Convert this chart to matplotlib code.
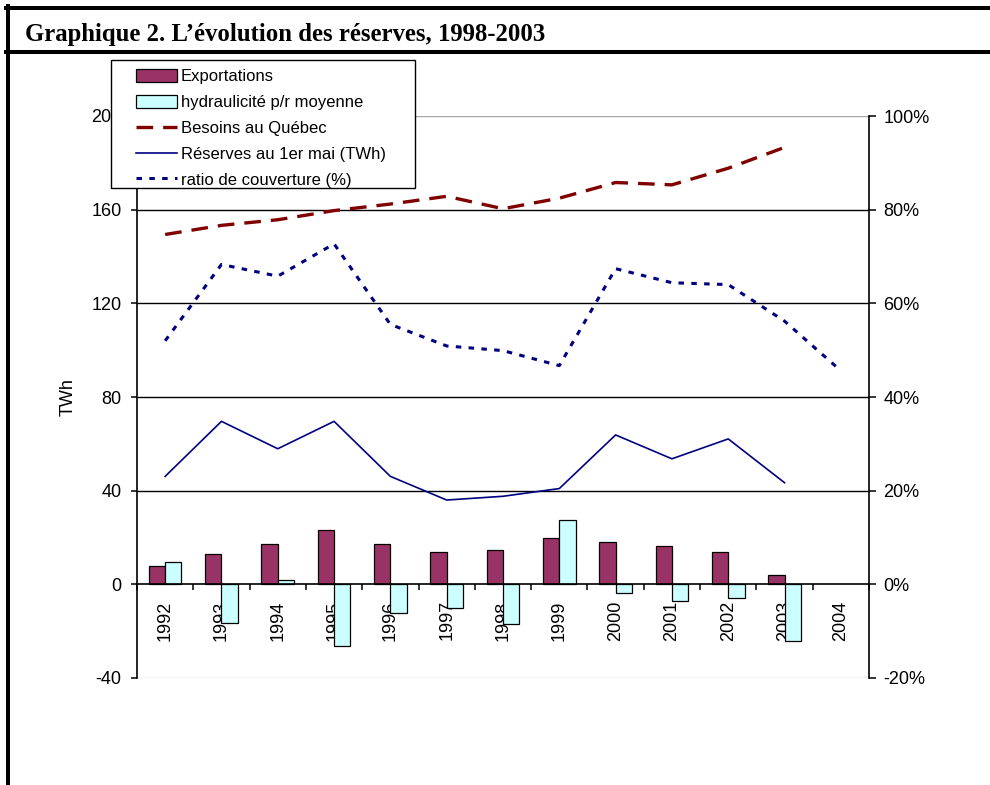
import matplotlib
matplotlib.use("Agg")
import matplotlib.pyplot as plt
from matplotlib.lines import Line2D
from matplotlib.patches import Rectangle, Patch
import numpy as np

# Données (TWh, sauf ratio en %)
annees = ["1992", "1993", "1994", "1995", "1996", "1997", "1998",
          "1999", "2000", "2001", "2002", "2003", "2004"]
exportations = [8.0, 13.0, 17.2, 23.2, 17.2, 13.8, 14.6, 19.6, 18.1, 16.2, 13.8, 4.1]
hydraulicite = [9.5, -16.4, 1.8, -26.4, -12.1, -10.3, -17.1, 27.4, -3.6, -7.0, -6.0, -24.1]
besoins = [149.4, 153.3, 155.7, 159.6, 162.4, 165.7, 160.4, 164.9, 171.6, 170.6, 177.7, 186.6]
reserves = [46.1, 69.6, 57.9, 69.6, 46.1, 36.0, 37.6, 40.9, 63.8, 53.6, 62.1, 43.4]
ratio = [52.0, 68.3, 65.8, 72.7, 55.5, 50.9, 49.9, 46.7, 67.4, 64.4, 64.0, 56.2, 45.6]

left_ticks = [-40, 0, 40, 80, 120, 160, 200]
right_ticks = [-20, 0, 20, 40, 60, 80, 100]

SANS = "Liberation Sans"
SERIF = "Liberation Serif"
plt.rcParams["font.family"] = [SANS, "DejaVu Sans"]

C_EXP = "#993366"
C_HYD = "#CCFFFF"
C_BES = "#800000"
C_RES = "#000080"
C_RAT = "#000080"

W, H = 990, 785
fig = plt.figure(figsize=(W / 100, H / 100), dpi=100)

def fx(px):
    return px / W

def fy(py):
    return 1 - py / H

ax = fig.add_axes([fx(137), fy(678), fx(869) - fx(137), fy(116) - fy(678)])
ax2 = ax.twinx()

x_all = np.arange(len(annees))
x12 = np.arange(len(exportations))
bw = 0.29

# Barres
ax.bar(x12 - bw / 2, exportations, width=bw, color=C_EXP, edgecolor="black",
       linewidth=0.9, zorder=3)
ax.bar(x12 + bw / 2, hydraulicite, width=bw, color=C_HYD, edgecolor="black",
       linewidth=0.9, zorder=3)

# Courbes (axe TWh)
ax.plot(x12, besoins, color=C_BES, linewidth=2.4, dashes=(5, 3), zorder=4,
        solid_capstyle="butt", dash_capstyle="butt")
ax.plot(x12, reserves, color=C_RES, linewidth=1.2, zorder=4)

# Ratio de couverture (axe %)
ax2.plot(x_all, ratio, color=C_RAT, linewidth=2.2, dashes=(1.8, 2.4),
         dash_capstyle="butt", zorder=4)

# Axes
ax.set_xlim(-0.5, len(annees) - 0.5)
ax.set_ylim(-40, 200)
ax2.set_ylim(-20, 100)

ax.set_yticks(left_ticks)
ax.set_yticklabels([str(t) for t in left_ticks], fontsize=13)
ax2.set_yticks(right_ticks)
ax2.set_yticklabels([f"{t}%" for t in right_ticks], fontsize=13)

for t in [40, 80, 120, 160]:
    ax.axhline(t, color="black", linewidth=1.0, zorder=1)
ax.axhline(200, color="#a6a6a6", linewidth=1.0, zorder=1)
ax.axhline(-40, color="#c8c8c8", linewidth=1.0, zorder=1)

ax.spines["top"].set_visible(False)
ax.spines["right"].set_visible(False)
ax.spines["left"].set_linewidth(1.2)
ax.spines["bottom"].set_position(("data", 0))
ax.spines["bottom"].set_linewidth(1.2)
ax.spines["bottom"].set_zorder(5)
for s in ["top", "left", "bottom"]:
    ax2.spines[s].set_visible(False)
ax2.spines["right"].set_linewidth(1.2)

ax.set_xticks(np.arange(-0.5, len(annees), 1.0))
ax.set_xticklabels([])
ax.set_xticks(x_all, minor=True)
ax.set_xticklabels(annees, minor=True, rotation=90, fontsize=13)
ax.tick_params(axis="x", which="major", direction="out", length=4.5, width=1.1)
ax.tick_params(axis="x", which="minor", length=0, pad=11.5)
ax.tick_params(axis="y", direction="out", length=4, width=1.1, pad=7)
ax2.tick_params(axis="y", direction="out", length=5, width=1.1, pad=5.5)

ax.set_ylabel("TWh", fontsize=13)
ax.yaxis.set_label_coords((77 - 137) / (869 - 137), 0.5)

# Cadre et titre
frame_kw = dict(color="black", linewidth=2.9, transform=fig.transFigure)
fig.add_artist(Line2D([fx(6), fx(990)], [fy(8), fy(8)], **frame_kw))
fig.add_artist(Line2D([fx(6), fx(990)], [fy(52), fy(52)], **frame_kw))
fig.add_artist(Line2D([fx(7.5), fx(7.5)], [fy(6), fy(785)], **frame_kw))
fig.text(fx(25), fy(41), "Graphique 2. L\u2019évolution des réserves, 1998-2003",
         family=[SERIF, "DejaVu Serif"], weight="bold", fontsize=17.8,
         ha="left", va="baseline")

# Légende
fig.add_artist(Rectangle((fx(111), fy(188)), fx(415) - fx(111), fy(60) - fy(188),
                         transform=fig.transFigure, facecolor="white",
                         edgecolor="black", linewidth=1.0, zorder=4))
handles = [
    Patch(facecolor=C_EXP, edgecolor="black", linewidth=0.9),
    Patch(facecolor=C_HYD, edgecolor="black", linewidth=0.9),
    Line2D([], [], color=C_BES, linewidth=2.4, dashes=(5, 3), dash_capstyle="butt"),
    Line2D([], [], color=C_RES, linewidth=1.2),
    Line2D([], [], color=C_RAT, linewidth=2.2, dashes=(1.8, 2.4), dash_capstyle="butt"),
]
labels = ["Exportations", "hydraulicité p/r moyenne", "Besoins au Québec",
          "Réserves au 1er mai (TWh)", "ratio de couverture (%)"]
leg = fig.legend(handles, labels, loc="upper left",
                 bbox_to_anchor=(fx(136), fy(69)), bbox_transform=fig.transFigure,
                 frameon=False, borderpad=0, borderaxespad=0, fontsize=12,
                 handlelength=2.45, handleheight=0.8, handletextpad=0.25,
                 labelspacing=0.64)
leg.set_zorder(5)

fig.savefig("out.png", dpi=100)
